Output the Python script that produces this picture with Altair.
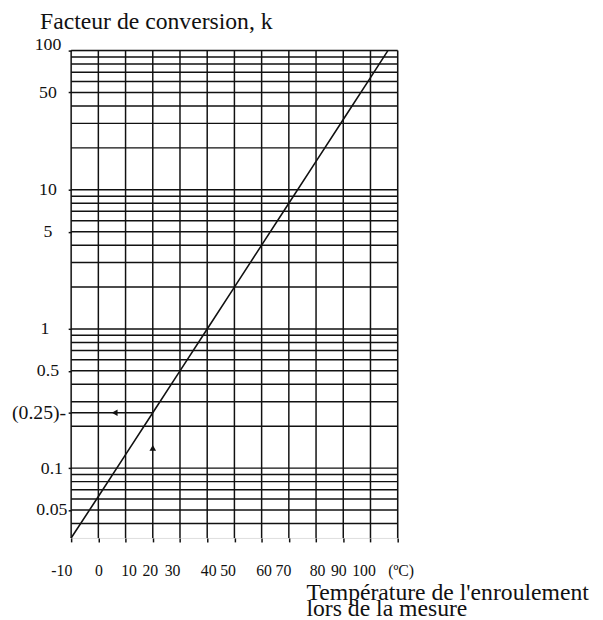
import altair as alt
import pandas as pd

# ---- values ----
temps = [-10, 0, 10, 20, 30, 40, 50, 60, 70, 80, 90, 100, 106.4]
kvals = [0.0315, 0.0625, 0.125, 0.25, 0.5, 1, 2, 4, 8, 16, 32, 64, 100]

x_ticks = [-10, 0, 10, 20, 30, 40, 50, 60, 70, 80, 90, 100, 110]
x_tick_labels = ["-10", "0", "10", "20", "30", "40", "50", "60", "70", "80", "90", "100", "(ºC)"]

y_ticks = [100, 50, 10, 5, 1, 0.5, 0.25, 0.1, 0.05]
y_tick_labels = ["100", "50", "10", "5", "1", "0.5", "(0.25)-", "0.1", "0.05"]

v_grid = [-10, 0, 10, 20, 30, 40, 50, 60, 70, 80, 90, 100, 110]
h_grid = [0.04, 0.05, 0.06, 0.07, 0.08, 0.09,
          0.1, 0.2, 0.3, 0.4, 0.5, 0.6, 0.7, 0.8, 0.9,
          1, 2, 3, 4, 5, 6, 7, 8, 9,
          10, 20, 30, 40, 50, 60, 70, 80, 90, 100]

ref_t = [-10, 20]          # horizontal reading line at k = 0.25
ref_k = [0.25]
arrow_left = {"t": [6], "k": [0.25]}
arrow_up = {"t": [20], "k": [0.14]}

x_domain = [-10, 110]
y_domain = [0.0315, 100]

y_title = "Facteur de conversion, k"
x_title = ["Température de l'enroulement", "\u00a0lors de la mesure"]

FONT = "Liberation Serif"
INK = "#111111"

# horizontal nudges of the printed temperature labels (typeset unevenly in the original)
x_label_nudge = {-10: -10, 10: 3, 20: -3, 30: -8, 40: 1, 50: -7, 60: 2,
                 70: -6, 80: 1, 90: -5, 100: -7, 110: 3}
# distance of each k label centre from the axis
y_label_pad = {0.25: 30, 0.1: 17, 0.05: 17, 1: 24}

xs = alt.Scale(domain=x_domain, nice=False, zero=False)
ys = alt.Scale(type="log", domain=y_domain, nice=False)


def js_list(vals, quote=False):
    if quote:
        return "[" + ",".join("'" + v + "'" for v in vals) + "]"
    return "[" + ",".join(repr(v) for v in vals) + "]"


x_label_expr = f"{js_list(x_tick_labels, True)}[indexof({js_list(x_ticks)}, datum.value)]"
y_label_expr = f"{js_list(y_tick_labels, True)}[indexof({js_list(y_ticks)}, datum.value)]"

x_axis = alt.Axis(
    values=x_ticks,
    labelExpr=x_label_expr,
    title=x_title,
    titleFont=FONT,
    titleFontSize=24,
    titleFontWeight="normal",
    titleColor=INK,
    titleAlign="left",
    titleBaseline="alphabetic",
    titleAnchor="start",
    titleX=238,
    titleY=62,
    titleLineHeight=16.5,
    labelFont=FONT,
    labelFontSize=16,
    labelColor=INK,
    labelPadding=21,
    labelOffset={
        "condition": [{"test": f"datum.value == {k}", "value": v} for k, v in x_label_nudge.items()],
        "value": 0,
    },
    labelFlush=False,
    labelOverlap=False,
    tickSize=4,
    tickColor=INK,
    tickWidth=1.5,
    domain=False,
    grid=False,
)

y_axis = alt.Axis(
    values=y_ticks,
    labelExpr=y_label_expr,
    title=y_title,
    titleFont=FONT,
    titleFontSize=24,
    titleFontWeight="normal",
    titleColor=INK,
    titleAngle=0,
    titleAlign="left",
    titleBaseline="alphabetic",
    titleAnchor="start",
    titleX=-32,
    titleY=-22,
    labelFont=FONT,
    labelFontSize={
        "condition": {"test": "datum.value == 0.25", "value": 20},
        "value": 18,
    },
    labelColor=INK,
    labelAlign="center",
    labelPadding={
        "condition": [{"test": f"datum.value == {k}", "value": v} for k, v in y_label_pad.items()],
        "value": 21,
    },
    labelOffset={
        "condition": {"test": "datum.value == 100", "value": -6},
        "value": 0,
    },
    labelOverlap=False,
    labelFlush=False,
    tickSize=3,
    tickColor=INK,
    tickWidth=1.5,
    domain=False,
    grid=False,
)


def X(field):
    return alt.X(field, type="quantitative", scale=xs, axis=x_axis)


def Y(field):
    return alt.Y(field, type="quantitative", scale=ys, axis=y_axis)


vgrid = alt.Chart(pd.DataFrame({"t": v_grid})).mark_rule(
    color=INK, strokeWidth=1.5
).encode(x=X("t"))

hgrid = alt.Chart(pd.DataFrame({"k": h_grid})).mark_rule(
    color=INK, strokeWidth=1.5
).encode(y=Y("k"))

ref_line = alt.Chart(pd.DataFrame({"t": [ref_t[0]], "t2": [ref_t[1]], "k": ref_k})).mark_rule(
    color=INK, strokeWidth=1.5
).encode(x=X("t"), x2="t2:Q", y=Y("k"))

curve = alt.Chart(pd.DataFrame({"t": temps, "k": kvals})).mark_line(
    color=INK, strokeWidth=1.6
).encode(x=X("t"), y=Y("k"), order="t:Q")

left_head = alt.Chart(pd.DataFrame(arrow_left)).mark_point(
    shape="triangle-left", filled=True, size=45, color=INK, opacity=1
).encode(x=X("t"), y=Y("k"))

up_head = alt.Chart(pd.DataFrame(arrow_up)).mark_point(
    shape="triangle-up", filled=True, size=45, color=INK, opacity=1
).encode(x=X("t"), y=Y("k"))

chart = alt.layer(vgrid, hgrid, ref_line, curve, left_head, up_head).properties(
    width=331,
    height=494,
    padding={"left": 64, "top": 39, "right": 200, "bottom": 80},
    autosize=alt.AutoSizeParams(type="none"),
).configure_view(stroke=INK, strokeWidth=1.5).configure(background="white")

chart.save("out.html", embed_options={"renderer": "svg", "actions": False})
